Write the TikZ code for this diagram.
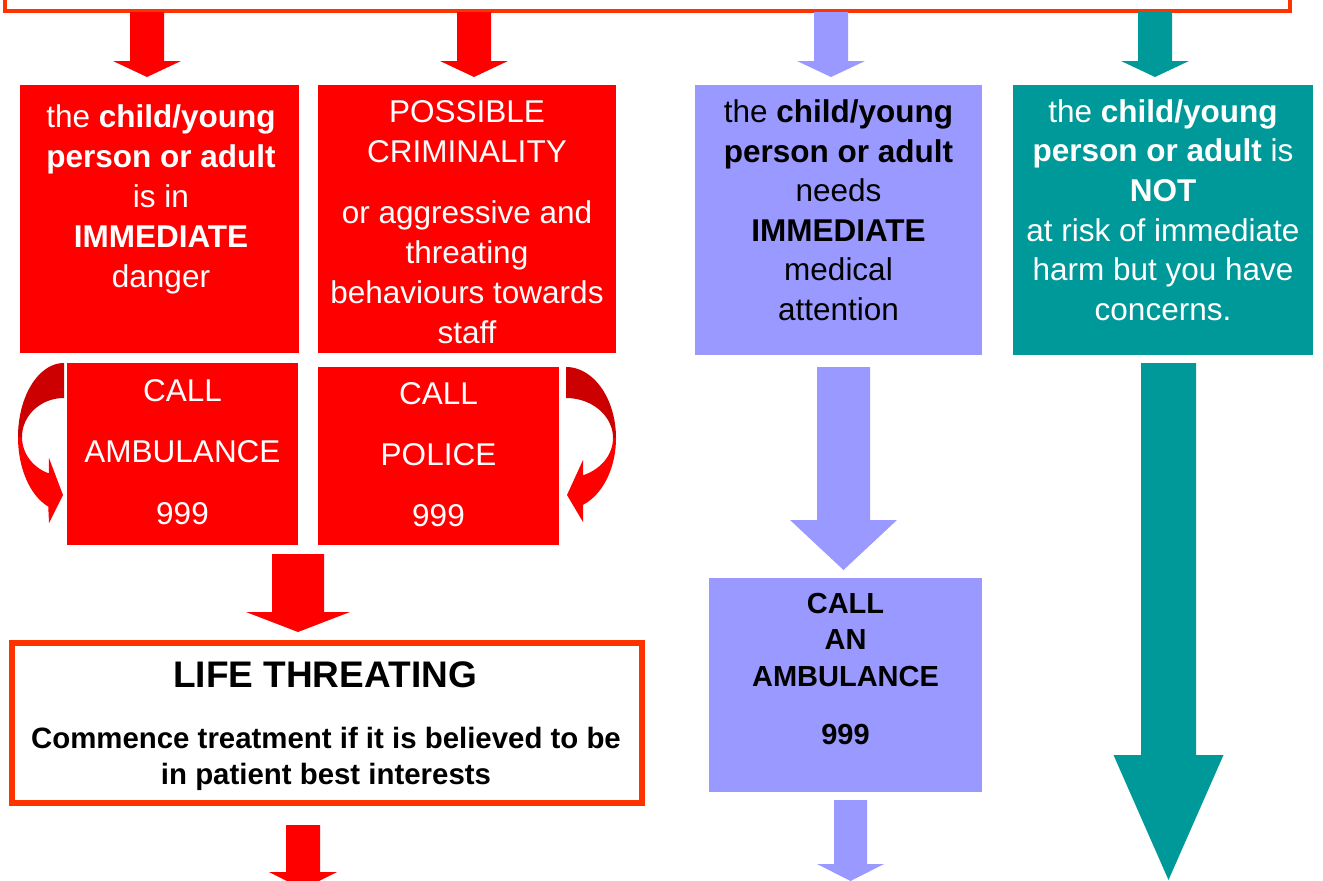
\documentclass[tikz,border=0pt]{standalone}
\usepackage{fontspec}
\setmainfont{Liberation Sans}
\usetikzlibrary{calc}
\definecolor{cred}{HTML}{FF0000}
\definecolor{cdark}{HTML}{CC0000}
\definecolor{clav}{HTML}{9999FF}
\definecolor{cteal}{HTML}{009999}
\definecolor{corange}{HTML}{FF3300}
\newcommand\tstr[1]{\rule{0pt}{#1}}
% #1 start, #2 tip, #3 half shaft, #4 half head, #5 head length, #6 colour
\newcommand\blockdown[6]{%
  \fill[#6] ($(#1)+(-#3,0)$) -- ($(#1)+(#3,0)$) -- ($(#1|-#2)+(#3,-#5)$)
    -- ($(#1|-#2)+(#4,-#5)$) -- (#2) -- ($(#1|-#2)+(-#4,-#5)$)
    -- ($(#1|-#2)+(-#3,-#5)$) -- cycle;}
\tikzset{
  box/.style={inner sep=0pt, outer sep=0pt, anchor=north west},
  redbox/.style={box, fill=cred},
  lavbox/.style={box, fill=clav},
  tealbox/.style={box, fill=cteal},
  framebox/.style={box, draw=corange, fill=white},
  txt/.style={align=center, inner sep=0pt, anchor=north},
  wtxt/.style={txt, text=white},
  btxt/.style={txt, text=black},
}
\begin{document}
\begin{tikzpicture}[x=1pt,y=-1pt]
\useasboundingbox (0,0) rectangle (1323,881);
\clip (0,0) rectangle (1323,881);

% top frame
\node[framebox, line width=4pt, minimum width=1285pt, minimum height=51pt, anchor=south west] (top) at (5,11) {};

% first row boxes
\node[redbox, minimum width=279pt, minimum height=268pt] (b1) at (20,85) {};
\node[redbox, minimum width=298pt, minimum height=268pt] (b2) at (318,85) {};
\node[lavbox, minimum width=287pt, minimum height=270pt] (b3) at (695,85) {};
\node[tealbox, minimum width=300pt, minimum height=270pt] (b4) at (1013,85) {};

\node[wtxt, font=\fontsize{31.5pt}{40pt}\selectfont] (t1) at (161,102)
  {\tstr{25pt}the \textbf{child/young}\\\textbf{person or adult}\\is in\\\textbf{IMMEDIATE}\\danger};
\node[wtxt, font=\fontsize{31.5pt}{40pt}\selectfont] (t2) at (467,97)
  {\tstr{25pt}POSSIBLE\\CRIMINALITY\\[21pt]or aggressive and\\threating\\behaviours towards\\staff};
\node[btxt, font=\fontsize{31.5pt}{39.5pt}\selectfont] (t3) at (838.5,97.5)
  {\tstr{25pt}the \textbf{child/young}\\\textbf{person or adult}\\needs\\\textbf{IMMEDIATE}\\medical\\attention};
\node[wtxt, font=\fontsize{31.5pt}{39.6pt}\selectfont] (t4) at (1163,97)
  {\tstr{25pt}the \textbf{child/young}\\\textbf{person or adult} is\\\textbf{NOT}\\at risk of immediate\\harm but you have\\concerns.};

% second row
\node[redbox, minimum width=231pt, minimum height=182pt] (c1) at (67,363) {};
\node[redbox, minimum width=241pt, minimum height=178pt] (c2) at (318,367) {};
\node[wtxt, font=\fontsize{31.5pt}{61.5pt}\selectfont] (tc1) at (182.5,376)
  {\tstr{25pt}CALL\\AMBULANCE\\999};
\node[wtxt, font=\fontsize{31.5pt}{61pt}\selectfont] (tc2) at (438.5,379)
  {\tstr{25pt}CALL\\POLICE\\999};

% curved arrows
\fill[cdark] plot[domain=90:180, samples=40] ({64+46*cos(\x)},{437-74*sin(\x)})
  -- plot[domain=180:90, samples=40] ({64+42*cos(\x)},{437-39*sin(\x)}) -- cycle;
\fill[cred] plot[domain=180:250, samples=40] ({64+46*cos(\x)},{437-74*sin(\x)})
  -- (49,523) -- (63,495) -- (49,458)
  -- plot[domain=249:180, samples=40] ({64+42*cos(\x)},{437-39*sin(\x)}) -- cycle;
\fill[cdark] plot[domain=90:0, samples=40] ({566+50*cos(\x)},{438-71*sin(\x)})
  -- plot[domain=0:90, samples=40] ({566+47*cos(\x)},{438-40*sin(\x)}) -- cycle;
\fill[cred] plot[domain=0:-70, samples=40] ({566+50*cos(\x)},{438-71*sin(\x)})
  -- (583,522) -- (567,495) -- (583,460)
  -- plot[domain=-68.8:0, samples=40] ({566+47*cos(\x)},{438-40*sin(\x)}) -- cycle;

% life threatening box
\node[framebox, line width=6pt, minimum width=630pt, minimum height=160pt] (life) at (12,643) {};
\node[btxt, font=\fontsize{37pt}{44pt}\selectfont\bfseries] (lt) at (325,657)
  {\tstr{30pt}LIFE THREATING};
\node[btxt, font=\fontsize{29.4pt}{36pt}\selectfont\bfseries] (ls) at (326,724)
  {\tstr{24pt}Commence treatment if it is believed to be\\in patient best interests};

% call an ambulance box
\node[lavbox, minimum width=273pt, minimum height=214pt] (amb) at (709,578) {};
\node[btxt, font=\fontsize{29pt}{36.5pt}\selectfont\bfseries] (ta) at (845.5,589)
  {\tstr{24pt}CALL\\AN\\AMBULANCE\\[21.5pt]999};

% arrow coordinates
\coordinate (a1s) at (147,12);  \coordinate (a1t) at (147,77);
\coordinate (a2s) at (474,12);  \coordinate (a2t) at (474,77);
\coordinate (a3s) at (831,12);  \coordinate (a3t) at (831,77);
\coordinate (a4s) at (1155,12); \coordinate (a4t) at (1155,77);
\coordinate (m1s) at (298,554); \coordinate (m1t) at (298,632);
\coordinate (l1s) at (303,825); \coordinate (l1t) at (303,889);
\coordinate (v1s) at (843.5,367); \coordinate (v1t) at (843.5,570);
\coordinate (v2s) at (850.5,800); \coordinate (v2t) at (850.5,881);
\coordinate (g1s) at (1168.5,363); \coordinate (g1t) at (1168.5,880);

\blockdown{a1s}{a1t}{17}{34}{16}{cred}
\blockdown{a2s}{a2t}{17}{34}{16}{cred}
\blockdown{a3s}{a3t}{17}{34}{16}{clav}
\blockdown{a4s}{a4t}{17}{34}{16}{cteal}
\blockdown{m1s}{m1t}{26}{52}{20}{cred}
\blockdown{l1s}{l1t}{17}{34}{17}{cred}
\blockdown{v1s}{v1t}{26.5}{53.5}{50}{clav}
\blockdown{v2s}{v2t}{16.5}{33.5}{17}{clav}
\blockdown{g1s}{g1t}{27.5}{55}{125}{cteal}
\end{tikzpicture}
\end{document}
